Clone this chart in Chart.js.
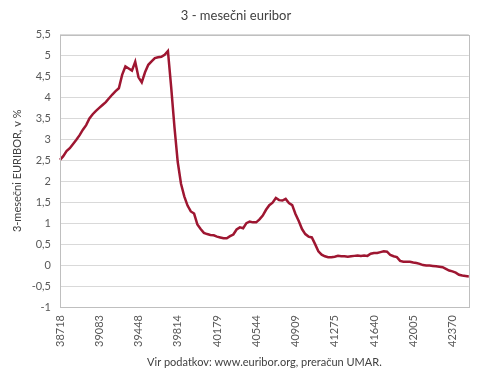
<!DOCTYPE html>
<html>
<head>
<meta charset="utf-8">
<script src="https://cdn.jsdelivr.net/npm/chart.js@4.4.0/dist/chart.umd.min.js"></script>
<style>
  html, body { margin: 0; padding: 0; background: #fff; }
  #wrap { width: 490px; height: 378px; }
</style>
</head>
<body>
<div id="wrap"><canvas id="chart" width="490" height="378"></canvas></div>
<script>
// 3-month euribor, monthly, Jan 2006 - Jun 2016
const startYear = 2006;
const yearTicks = ['38718', '39083', '39448', '39814', '40179', '40544',
                   '40909', '41275', '41640', '42005', '42370'];

const euribor = [
  2.51, 2.60, 2.72, 2.79, 2.89, 2.99, 3.10, 3.23, 3.34, 3.50, 3.60, 3.68, // 2006
  3.75, 3.82, 3.89, 3.98, 4.07, 4.15, 4.22, 4.54, 4.74, 4.69, 4.64, 4.85, // 2007
  4.48, 4.36, 4.60, 4.78, 4.86, 4.94, 4.96, 4.97, 5.02, 5.11, 4.24, 3.29, // 2008
  2.46, 1.94, 1.64, 1.42, 1.28, 1.23, 0.97, 0.86, 0.77, 0.74, 0.72, 0.71, // 2009
  0.68, 0.66, 0.64, 0.64, 0.69, 0.73, 0.85, 0.90, 0.88, 1.00, 1.04, 1.02, // 2010
  1.02, 1.09, 1.18, 1.32, 1.43, 1.49, 1.60, 1.55, 1.54, 1.58, 1.48, 1.43, // 2011
  1.22, 1.05, 0.86, 0.74, 0.68, 0.66, 0.50, 0.33, 0.25, 0.21, 0.19, 0.19, // 2012
  0.20, 0.22, 0.21, 0.21, 0.20, 0.21, 0.22, 0.23, 0.22, 0.23, 0.22, 0.27, // 2013
  0.29, 0.29, 0.31, 0.33, 0.32, 0.24, 0.21, 0.19, 0.10, 0.08, 0.08, 0.08, // 2014
  0.06, 0.05, 0.03, 0.00, -0.01, -0.01, -0.02, -0.03, -0.04, -0.05, -0.09, -0.13, // 2015
  -0.15, -0.18, -0.23, -0.25, -0.26, -0.27  // 2016
];

const months = euribor.map((v, i) => (startYear + Math.floor(i / 12)) + '-' + String(i % 12 + 1).padStart(2, '0'));

const FONT = 'Lato, "Open Sans", sans-serif';

// Excel style box round the plot area
const plotBorder = {
  id: 'plotBorder',
  afterDraw(chart) {
    const { ctx, chartArea: a } = chart;
    ctx.save();
    ctx.strokeStyle = '#bfbfbf';
    ctx.lineWidth = 1;
    ctx.strokeRect(Math.round(a.left) + 0.5, Math.round(a.top) + 0.5,
                   Math.round(a.right - a.left), Math.round(a.bottom - a.top));
    ctx.restore();
  }
};

new Chart(document.getElementById('chart'), {
  type: 'line',
  data: {
    labels: months,
    datasets: [{
      label: '3-mesečni EURIBOR',
      data: euribor,
      borderColor: '#9e1631',
      borderWidth: 2.5,
      pointRadius: 0,
      tension: 0,
      fill: false
    }]
  },
  options: {
    responsive: false,
    animation: false,
    layout: { padding: { left: 0, right: 18, top: 0, bottom: 0 } },
    plugins: {
      legend: { display: false },
      tooltip: { enabled: false },
      title: {
        display: true,
        text: '3 - mesečni euribor',
        color: '#404040',
        font: { family: FONT, size: 13, weight: 'normal' },
        padding: { top: 8, bottom: 11 }
      }
    },
    scales: {
      x: {
        type: 'category',
        offset: false,
        grid: { display: false, drawTicks: false },
        border: { display: false },
        ticks: {
          autoSkip: false,
          minRotation: 90,
          maxRotation: 90,
          padding: 8,
          color: '#595959',
          font: { family: FONT, size: 11 },
          callback: (v, i) => (i % 12 === 0 ? yearTicks[i / 12] : '')
        },
        title: {
          display: true,
          text: 'Vir podatkov: www.euribor.org, preračun UMAR.',
          color: '#404040',
          font: { family: FONT, size: 11 },
          padding: { top: 0, bottom: 9 }
        },
        afterFit: s => { s.height = 71; }
      },
      y: {
        min: -1,
        max: 5.5,
        grid: { color: '#d9d9d9', drawTicks: false },
        border: { display: false },
        ticks: {
          stepSize: 0.5,
          padding: 9,
          color: '#595959',
          font: { family: FONT, size: 11 },
          callback: v => String(v).replace('.', ',')
        },
        title: {
          display: true,
          text: '3-mesečni EURIBOR, v %',
          color: '#404040',
          font: { family: FONT, size: 11 },
          padding: { top: 11, bottom: 0 }
        },
        afterFit: s => { s.width = 60; }
      }
    }
  },
  plugins: [plotBorder]
});
</script>
</body>
</html>
